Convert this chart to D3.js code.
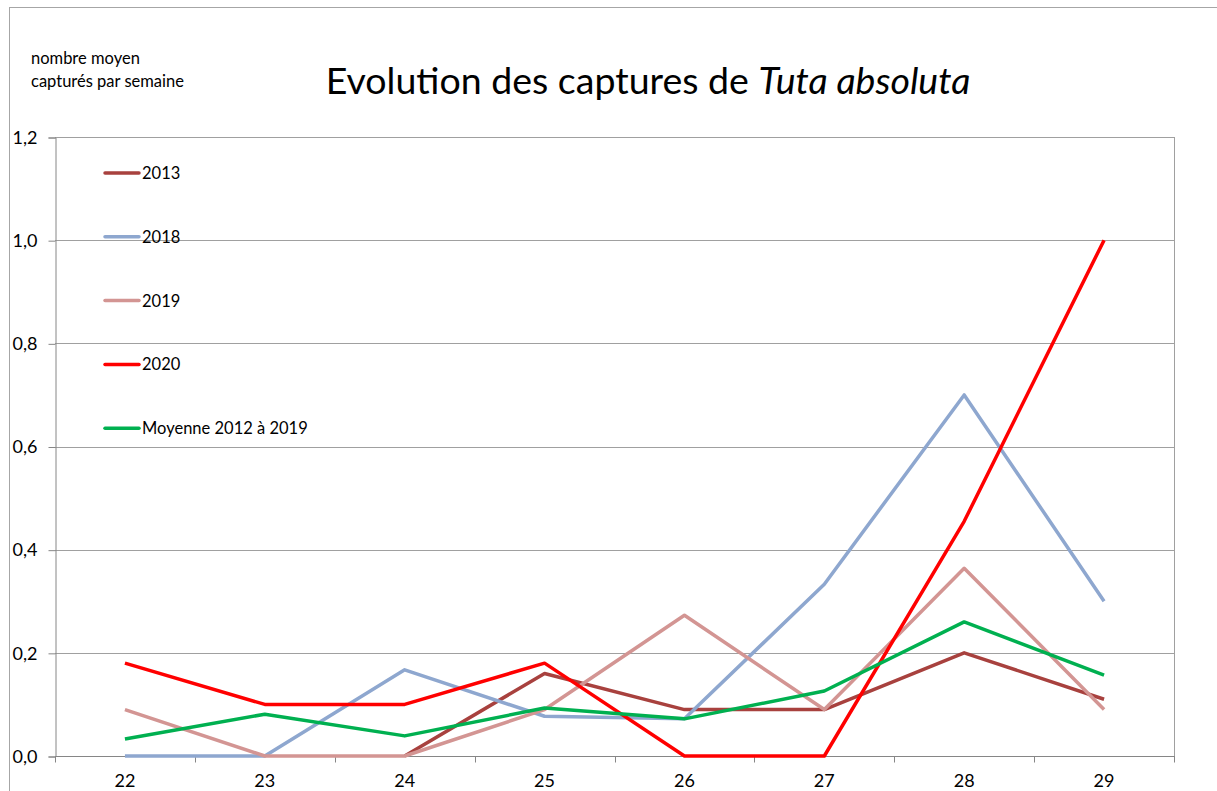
<!DOCTYPE html>
<html>
<head>
<meta charset="utf-8">
<script src="https://cdn.jsdelivr.net/npm/d3@7"></script>
<style>
  body { margin: 0; background: #fff; }
  text { font-family: Lato, "Open Sans", sans-serif; fill: #000; }
</style>
</head>
<body>
<script>
var width = 1217, height = 791;

// data
var weeks = [22, 23, 24, 25, 26, 27, 28, 29];
var s2013 = [null, null, 0, 0.16, 0.09, 0.09, 0.20, 0.11];
var s2018 = [0, 0, 0.167, 0.077, 0.072, 0.333, 0.70, 0.30];
var s2019 = [0.09, 0, 0, 0.09, 0.273, 0.09, 0.364, 0.09];
var s2020 = [0.18, 0.10, 0.10, 0.18, 0, 0, 0.455, 1.0];
var moyenne = [0.033, 0.081, 0.039, 0.093, 0.072, 0.126, 0.26, 0.157];
var seriesNames = ["2013", "2018", "2019", "2020", "Moyenne 2012 à 2019"];
var yTicks = [0, 0.2, 0.4, 0.6, 0.8, 1.0, 1.2];

var series = [s2013, s2018, s2019, s2020, moyenne];
var colors = ["#a8413e", "#8ea7cf", "#d39593", "#ff0000", "#00b050"];

var margin = {left: 55, top: 137, right: 1174, bottom: 756};

var svg = d3.select("body")
    .append("svg")
    .attr("width", width)
    .attr("height", height);

// outer chart border
svg.append("rect")
    .attr("x", 9.5).attr("y", 7.5)
    .attr("width", 1230).attr("height", 800)
    .attr("fill", "none")
    .attr("stroke", "#a6a6a6");

var x = d3.scaleBand().domain(weeks).range([margin.left, margin.right]);
var y = d3.scaleLinear().domain([0, 1.2]).range([margin.bottom, margin.top]);

// gridlines
svg.append("g")
    .selectAll("line")
    .data(yTicks)
  .enter().append("line")
    .attr("x1", margin.left).attr("x2", margin.right)
    .attr("y1", function(d){ return Math.round(y(d)) + 0.5; })
    .attr("y2", function(d){ return Math.round(y(d)) + 0.5; })
    .attr("stroke", "#a0a0a0");

// right edge of plot area
svg.append("line")
    .attr("x1", margin.right + 0.5).attr("x2", margin.right + 0.5)
    .attr("y1", margin.top).attr("y2", margin.bottom)
    .attr("stroke", "#a0a0a0");

// y axis
var fmt = function(d){ return d3.format(".1f")(d).replace(".", ","); };
var yAxis = svg.append("g")
    .attr("transform", "translate(" + (margin.left + 0.5) + ",0.5)")
    .call(d3.axisLeft(y).tickValues(yTicks).tickSize(7).tickPadding(11).tickFormat(fmt));
yAxis.select(".domain").attr("stroke", "#868686");
yAxis.selectAll(".tick line").attr("stroke", "#868686");
yAxis.selectAll(".tick text").attr("font-size", 18).attr("font-family", "Lato, sans-serif").attr("fill", "#000");

// x axis, ticks between categories
var xAxis = svg.append("g")
    .attr("transform", "translate(0," + (margin.bottom + 0.5) + ")");
xAxis.append("line")
    .attr("x1", margin.left).attr("x2", margin.right + 1)
    .attr("stroke", "#868686");
xAxis.selectAll("line.tk")
    .data(weeks.concat(["end"]))
  .enter().append("line")
    .attr("class", "tk")
    .attr("x1", function(d, i){ return Math.round(margin.left + i * x.bandwidth()) + 0.5; })
    .attr("x2", function(d, i){ return Math.round(margin.left + i * x.bandwidth()) + 0.5; })
    .attr("y1", 0).attr("y2", 6)
    .attr("stroke", "#868686");
xAxis.selectAll("text")
    .data(weeks)
  .enter().append("text")
    .attr("x", function(d){ return x(d) + x.bandwidth() / 2; })
    .attr("y", 30)
    .attr("text-anchor", "middle")
    .attr("font-size", 18)
    .text(function(d){ return d; });

// lines
var line = d3.line()
    .defined(function(d){ return d != null; })
    .x(function(d, i){ return x(weeks[i]) + x.bandwidth() / 2; })
    .y(function(d){ return y(d); });

svg.append("g")
    .selectAll("path")
    .data(series)
  .enter().append("path")
    .attr("d", line)
    .attr("fill", "none")
    .attr("stroke", function(d, i){ return colors[i]; })
    .attr("stroke-width", 3.5)
    .attr("stroke-linejoin", "round");

// legend
var legend = svg.append("g")
    .selectAll("g")
    .data(seriesNames)
  .enter().append("g")
    .attr("transform", function(d, i){ return "translate(105," + (173 + i * 63.8) + ")"; });
legend.append("line")
    .attr("x1", 0).attr("x2", 34)
    .attr("stroke", function(d, i){ return colors[i]; })
    .attr("stroke-width", 3.5)
    .attr("stroke-linecap", "round");
legend.append("text")
    .attr("x", 37).attr("y", 6)
    .attr("font-size", 16.5)
    .text(function(d){ return d; });

// titles
var title = svg.append("text")
    .attr("x", 648).attr("y", 94)
    .attr("text-anchor", "middle")
    .attr("font-size", 37.5);
title.append("tspan").text("Evolution des captures de ");
title.append("tspan").attr("font-style", "italic").text("Tuta absoluta");

svg.append("text").attr("x", 31).attr("y", 64).attr("font-size", 16.5).text("nombre moyen");
svg.append("text").attr("x", 31).attr("y", 87).attr("font-size", 16.5).text("capturés par semaine");
</script>
</body>
</html>
